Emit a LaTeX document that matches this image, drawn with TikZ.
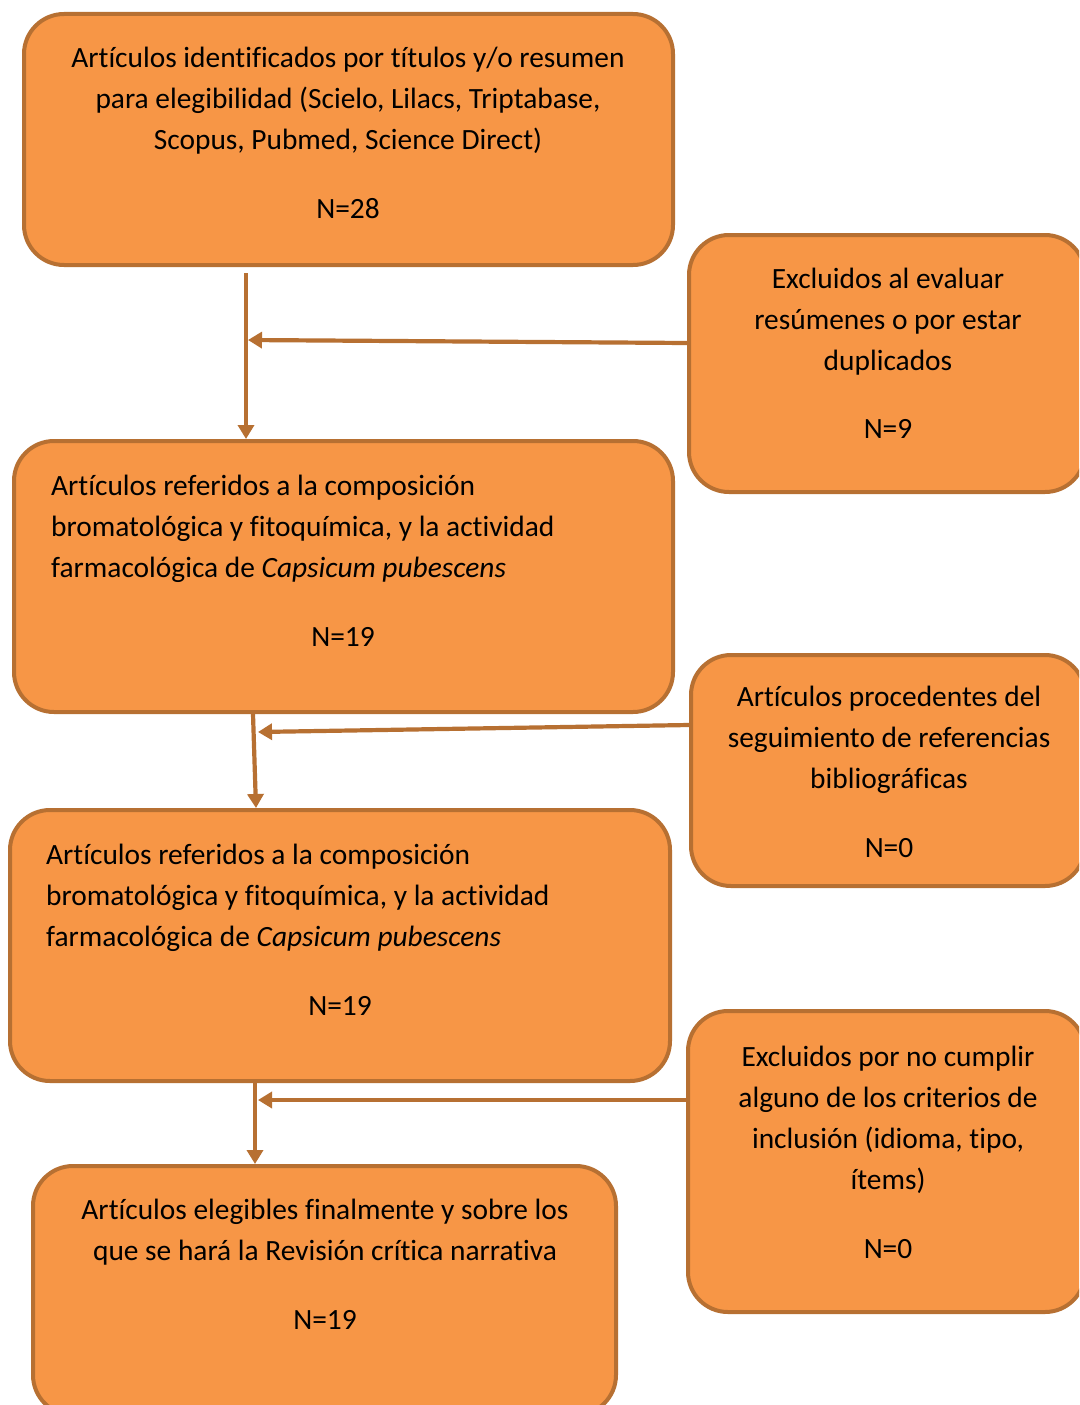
\documentclass[tikz,border=0pt]{standalone}
\usepackage{fontspec}
\setmainfont{Carlito}[Ligatures=NoCommon,RawFeature={-liga;-clig}]
\usetikzlibrary{arrows.meta,calc}
\definecolor{boxfill}{RGB}{247,150,70}
\definecolor{boxline}{RGB}{183,112,50}
\begin{document}
\begin{tikzpicture}[x=1pt,y=-1pt,
 box/.style={draw=boxline,fill=boxfill,line width=4pt,rounded corners=40pt,rectangle,inner sep=0pt},
 txt/.style={font=\fontsize{29.4}{41}\selectfont,inner sep=0pt,text=black},
 arr/.style={draw=boxline,line width=4.2pt,-{Triangle[length=14pt,width=16pt]}}]
\useasboundingbox (0,0) rectangle (1079,1405);
\fill[white] (0,0) rectangle (1079,1405);
\clip (0,0) rectangle (1079,1405);
% boxes
\node[box,minimum width=649pt,minimum height=251pt] (b1) at (348.5,139.5) {};
\node[box,minimum width=396pt,minimum height=257pt] (r1) at (887,363.5) {};
\node[box,minimum width=659pt,minimum height=271pt] (b2) at (343.5,576.5) {};
\node[box,minimum width=394pt,minimum height=231pt] (r2) at (888,770.5) {};
\node[box,minimum width=660pt,minimum height=271pt] (b3) at (340,945.5) {};
\node[box,minimum width=397pt,minimum height=301pt] (r3) at (886.5,1161.5) {};
\node[box,minimum width=583pt,minimum height=249pt] (b4) at (324.5,1290.5) {};
% texts
\node[txt,align=center,anchor=north] (t1) at (348,39) {\strut Artículos identificados por títulos y/o resumen\\ para elegibilidad (Scielo, Lilacs, Triptabase,\\ Scopus, Pubmed, Science Direct)};
\node[txt] (n1) at (348,209) {N=28};
\node[txt,align=center,anchor=north] (tr1) at (888,260) {\strut Excluidos al evaluar\\ resúmenes o por estar\\ duplicados};
\node[txt] (nr1) at (888,429) {N=9};
\node[txt,align=left,anchor=north west] (t2) at (51,467) {\strut Artículos referidos a la composición\\ bromatológica y fitoquímica, y la actividad\\ farmacológica de \textit{Capsicum pubescens}};
\node[txt] (n2) at (343,637) {N=19};
\node[txt,align=center,anchor=north] (tr2) at (889,678) {\strut Artículos procedentes del\\ seguimiento de referencias\\ bibliográficas};
\node[txt] (nr2) at (889,848) {N=0};
\node[txt,align=left,anchor=north west] (t3) at (46,836) {\strut Artículos referidos a la composición\\ bromatológica y fitoquímica, y la actividad\\ farmacológica de \textit{Capsicum pubescens}};
\node[txt] (n3) at (340,1006) {N=19};
\node[txt,align=center,anchor=north] (tr3) at (888,1038) {\strut Excluidos por no cumplir\\ alguno de los criterios de\\ inclusión (idioma, tipo,\\ ítems)};
\node[txt] (nr3) at (888,1249) {N=0};
\node[txt,align=center,anchor=north] (t4) at (325,1191) {\strut Artículos elegibles finalmente y sobre los\\ que se hará la Revisión crítica narrativa};
\node[txt] (n4) at (325,1320) {N=19};
% connectors
\coordinate (c1) at (246,273);
\coordinate (m1) at (248,340);
\coordinate (m2) at (258,732);
\coordinate (m3) at (258,1100);
\draw[arr] (c1) -- ($(b2.north)+(-97.5,0)$);
\draw[arr] ($(r1.west)+(0,-20.5)$) -- (m1);
\draw[arr] ($(b2.south)+(-90.5,0)$) -- ($(b3.north)+(-84,0)$);
\draw[arr] ($(r2.west)+(0,-45.5)$) -- (m2);
\draw[arr] ($(b3.south)+(-85,0)$) -- ($(b4.north)+(-69.5,0)$);
\draw[arr] ($(r3.west)+(0,-61.5)$) -- (m3);
\end{tikzpicture}
\end{document}
